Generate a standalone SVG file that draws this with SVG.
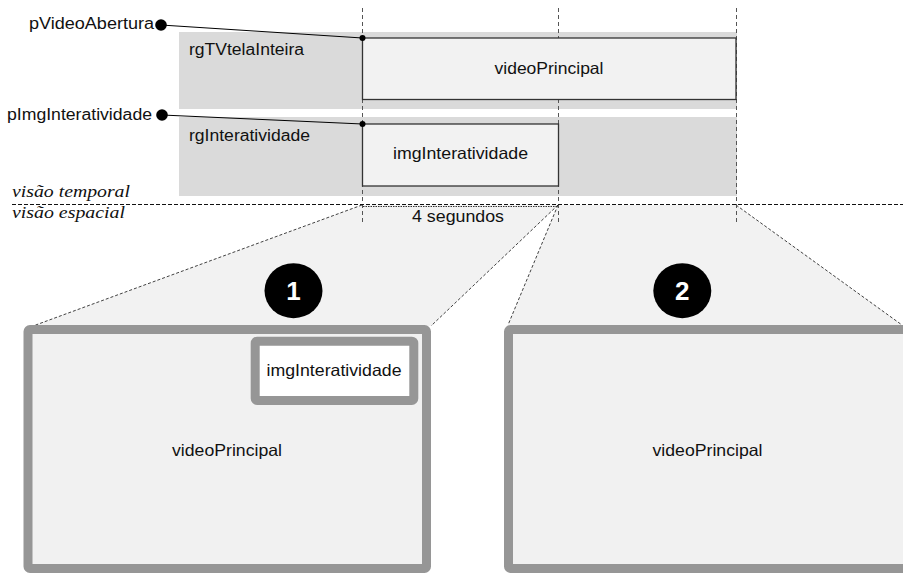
<svg xmlns="http://www.w3.org/2000/svg" width="903" height="573" viewBox="0 0 903 573">
<style>
.t{font-family:"Liberation Sans",Arial,sans-serif;font-size:16.5px;fill:#111}
.lbl{font-family:"Liberation Sans",Arial,sans-serif;font-size:16px;fill:#111}
.it{font-family:"Liberation Serif","Times New Roman",serif;font-style:italic;font-size:17px;fill:#111}
.region{fill:#dadada}
.media{fill:#f2f2f2;stroke:#333;stroke-width:1.3}
.vdash{stroke:#555;stroke-width:1;stroke-dasharray:4 3;fill:none}
.hdash{stroke:#111;stroke-width:1;stroke-dasharray:4 2;fill:none}
.proj{fill:#f2f2f2;stroke:none}
.pline{stroke:#111;stroke-width:0.8;stroke-dasharray:3 2;fill:none}
.screen{fill:#f1f1f1;stroke:#969696;stroke-width:9}
.num{font-family:"Liberation Sans",Arial,sans-serif;font-size:26px;font-weight:bold;fill:#fff}
</style>

<g id="projections">
  <polygon class="proj" points="362,205 558,205 431,326 33,326"/>
  <polygon class="proj" points="558,205 736,205 902,325 508,325"/>
  <line class="pline" x1="362" y1="205" x2="33" y2="326"/>
  <line class="pline" x1="558" y1="205" x2="431" y2="326"/>
  <line class="pline" x1="558" y1="205" x2="508" y2="325"/>
  <line class="pline" x1="736" y1="205" x2="902" y2="325"/>
</g>

<g id="rgTVtelaInteira">
  <rect class="region" x="179" y="32" width="558" height="77"/>
  <text class="lbl" x="189" y="55" textLength="115" lengthAdjust="spacingAndGlyphs">rgTVtelaInteira</text>
</g>
<g id="rgInteratividade">
  <rect class="region" x="179" y="117" width="558" height="79"/>
  <text class="lbl" x="189" y="141" textLength="121" lengthAdjust="spacingAndGlyphs">rgInteratividade</text>
</g>

<g id="timeline-guides">
  <line class="vdash" x1="362.5" y1="8" x2="362.5" y2="222"/>
  <line class="vdash" x1="558.5" y1="8" x2="558.5" y2="222"/>
  <line class="vdash" x1="736.5" y1="8" x2="736.5" y2="222"/>
  <line class="hdash" x1="12" y1="204.5" x2="903" y2="204.5"/>
  <line stroke="#333" stroke-width="1" stroke-dasharray="1.5 1" x1="363" y1="206.5" x2="558" y2="206.5"/>
  <text class="t" x="458" y="222" text-anchor="middle" textLength="92" lengthAdjust="spacingAndGlyphs">4 segundos</text>
  <text class="it" x="12" y="197" textLength="118" lengthAdjust="spacingAndGlyphs">visão temporal</text>
  <text class="it" x="12" y="218" textLength="113" lengthAdjust="spacingAndGlyphs">visão espacial</text>
</g>

<g id="videoPrincipal">
  <rect class="media" x="362.5" y="38" width="373.5" height="61.5"/>
  <text class="t" x="549" y="74" text-anchor="middle" textLength="109" lengthAdjust="spacingAndGlyphs">videoPrincipal</text>
</g>
<g id="imgInteratividade">
  <rect class="media" x="362.5" y="124" width="196" height="62"/>
  <text class="t" x="460.5" y="159" text-anchor="middle" textLength="135" lengthAdjust="spacingAndGlyphs">imgInteratividade</text>
</g>

<g id="pVideoAbertura">
  <text class="lbl" x="29" y="29" textLength="125" lengthAdjust="spacingAndGlyphs">pVideoAbertura</text>
  <circle cx="161" cy="25" r="5.8" fill="#000"/>
</g>
<g id="pImgInteratividade">
  <text class="lbl" x="7" y="120" textLength="145" lengthAdjust="spacingAndGlyphs">pImgInteratividade</text>
  <circle cx="162" cy="115" r="5.8" fill="#000"/>
</g>

<g id="connectors">
  <line x1="161" y1="25" x2="362.5" y2="38" stroke="#000" stroke-width="1"/>
  <circle cx="362.5" cy="38" r="3" fill="#000"/>
  <line x1="162" y1="115" x2="362.5" y2="124" stroke="#000" stroke-width="1"/>
  <circle cx="362.5" cy="124" r="3" fill="#000"/>
</g>

<g id="screen1">
  <rect class="screen" x="28" y="329.5" width="398.5" height="239" rx="2"/>
  <text class="t" x="227" y="456" text-anchor="middle" textLength="110" lengthAdjust="spacingAndGlyphs">videoPrincipal</text>
  <rect x="255.2" y="341.2" width="158.6" height="59.3" rx="2" fill="#fff" stroke="#969696" stroke-width="9"/>
  <text class="t" x="334" y="376" text-anchor="middle" textLength="135" lengthAdjust="spacingAndGlyphs">imgInteratividade</text>
</g>
<g id="screen2">
  <rect class="screen" x="508.5" y="329.5" width="400" height="239" rx="2"/>
  <text class="t" x="707.5" y="456" text-anchor="middle" textLength="110" lengthAdjust="spacingAndGlyphs">videoPrincipal</text>
</g>

<g id="badge1">
  <ellipse cx="293.5" cy="290.7" rx="29" ry="27.5" fill="#000"/>
  <text class="num" x="293.5" y="300" text-anchor="middle">1</text>
</g>
<g id="badge2">
  <ellipse cx="682.3" cy="290.7" rx="29" ry="27.5" fill="#000"/>
  <text class="num" x="682.3" y="300" text-anchor="middle">2</text>
</g>
</svg>
